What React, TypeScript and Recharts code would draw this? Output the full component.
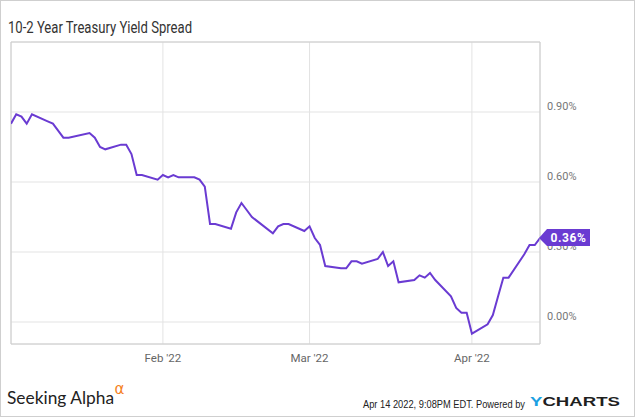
import React from 'react';
import { LineChart, Line, XAxis, YAxis, CartesianGrid, ReferenceLine, LabelList } from 'recharts';

// Day of year 2022 (Jan 1 = 0) for each trading day shown
const days = [
  2, 3, 4, 5, 6, 9, 10, 11, 12, 13, 17, 18, 19, 20, 23, 24, 25, 26, 27, 30,
  31, 32, 33, 34, 37, 38, 39, 40, 41, 44, 45, 46, 47, 48, 52, 53, 54, 55, 58,
  59, 60, 61, 62, 65, 66, 67, 68, 69, 72, 73, 74, 75, 76, 79, 80, 81, 82, 83, 86, 87, 88, 89,
  90, 93, 94, 95, 96, 97, 100, 101, 102, 103,
];
// 10-2 year treasury yield spread (%)
const spread = [
  0.85, 0.89, 0.88, 0.85, 0.89, 0.86, 0.85, 0.82, 0.79, 0.79, 0.81, 0.79, 0.75, 0.74, 0.76, 0.76, 0.72, 0.63, 0.63, 0.61,
  0.63, 0.62, 0.63, 0.62, 0.62, 0.61, 0.58, 0.42, 0.42, 0.40, 0.47, 0.51, 0.48, 0.45, 0.38, 0.41, 0.42, 0.42, 0.39,
  0.41, 0.36, 0.33, 0.24, 0.23, 0.23, 0.26, 0.26, 0.25, 0.27, 0.30, 0.24, 0.26, 0.17, 0.18, 0.20, 0.19, 0.21, 0.18, 0.11, 0.06, 0.04, 0.04,
  -0.05, -0.01, 0.03, 0.11, 0.19, 0.19, 0.29, 0.33, 0.33, 0.36,
];
const monthTicks = [31, 59, 90];
const monthLabels = ["Feb '22", "Mar '22", "Apr '22"];
const yTicks = [0, 0.3, 0.6, 0.9];
const yDomain = [-0.0943, 1.2];

const title = '10-2 Year Treasury Yield Spread';
const brand = 'Seeking Alpha';
const footerNote = 'Apr 14 2022, 9:08PM EDT.  Powered by';

const data = days.map((d, i) => ({ day: d, spread: spread[i] }));

const W = 635;
const H = 417;
const PURPLE = '#6a3bd2';
const GRID = '#e3e3e3';
const FRAME = '#cccccc';

function XTick(props: any) {
  const { x, y, payload } = props;
  const i = monthTicks.indexOf(payload.value);
  return (
    <text x={x} y={y + 18} textAnchor="middle" fill="#666" fontSize={11.5} fontFamily="Roboto">
      {monthLabels[i]}
    </text>
  );
}

function YTick(props: any) {
  const { x, y, payload } = props;
  return (
    <text x={x} y={y - 2} textAnchor="start" fill="#777" fontSize={11} fontFamily="Roboto">
      {payload.value.toFixed(2) + '%'}
    </text>
  );
}

function LastBadge(props: any) {
  const { x, y, index, value } = props;
  if (index !== data.length - 1) return null;
  const ax = 7;
  const w = 43;
  const h = 17;
  const top = y - h / 2 - 0.5;
  return (
    <g>
      <path
        d={`M${x - 1},${y} L${x + ax},${top} L${x + ax + w},${top} L${x + ax + w},${top + h} L${x + ax},${top + h} Z`}
        fill={PURPLE}
      />
      <text
        x={x + ax + w / 2}
        y={y + 4}
        textAnchor="middle"
        fill="#fff"
        fontWeight="bold"
        fontSize={12}
        fontFamily="Roboto"
        letterSpacing={0.6}
      >
        {Number(value).toFixed(2) + '%'}
      </text>
    </g>
  );
}

export default function App() {
  return (
    <div
      style={{
        position: 'absolute',
        left: 0,
        top: 0,
        width: W,
        height: H,
        background: '#fff',
        boxSizing: 'border-box',
        border: '1px solid #cfcfcf',
      }}
    >
      <div style={{ position: 'absolute', left: -1, top: -1 }}>
        <LineChart width={W} height={H} data={data} margin={{ top: 42, right: 0, left: 11, bottom: 43 }}>
          <CartesianGrid stroke={GRID} strokeWidth={1} />
          <XAxis
            dataKey="day"
            type="number"
            domain={[days[0], days[days.length - 1]]}
            ticks={monthTicks}
            tick={<XTick />}
            tickLine={false}
            tickSize={0}
            tickMargin={0}
            height={30}
            axisLine={{ stroke: FRAME }}
            allowDataOverflow
          />
          <YAxis
            orientation="right"
            type="number"
            domain={yDomain}
            ticks={yTicks}
            tick={<YTick />}
            tickLine={false}
            tickSize={0}
            tickMargin={7}
            width={95}
            axisLine={{ stroke: FRAME }}
            allowDataOverflow
          />
          <ReferenceLine x={days[0]} stroke={FRAME} />
          <ReferenceLine y={yDomain[1]} stroke={FRAME} />
          <Line
            type="linear"
            dataKey="spread"
            stroke={PURPLE}
            strokeWidth={2}
            dot={false}
            isAnimationActive={false}
          >
            <LabelList dataKey="spread" content={<LastBadge />} />
          </Line>
        </LineChart>
      </div>
      <svg
        width={W}
        height={H}
        style={{ position: 'absolute', left: -1, top: -1, pointerEvents: 'none' }}
      >
        <text x={8} y={33} fontSize={16} fontFamily="Roboto" fill="#333" textLength={184} lengthAdjust="spacingAndGlyphs">
          {title}
        </text>
        <text x={7} y={403.5} fontSize={17} fontFamily="Lato" fill="#222" textLength={107} lengthAdjust="spacingAndGlyphs">
          {brand}
        </text>
        <text x={114.5} y={393.5} fontSize={15} fontFamily="DejaVu Sans" fill="#f5821f">
          α
        </text>
        <text x={363} y={408.3} fontSize={10} fontFamily="Liberation Sans" fill="#222" textLength={162} lengthAdjust="spacingAndGlyphs">
          {footerNote}
        </text>
        <text x={530} y={405.8} fontSize={12} fontWeight="bold" fontFamily="Liberation Sans" textLength={90} lengthAdjust="spacingAndGlyphs">
          <tspan fill="#1ba0e2">Y</tspan>
          <tspan fill="#1f1f1f">CHARTS</tspan>
        </text>
      </svg>
    </div>
  );
}
